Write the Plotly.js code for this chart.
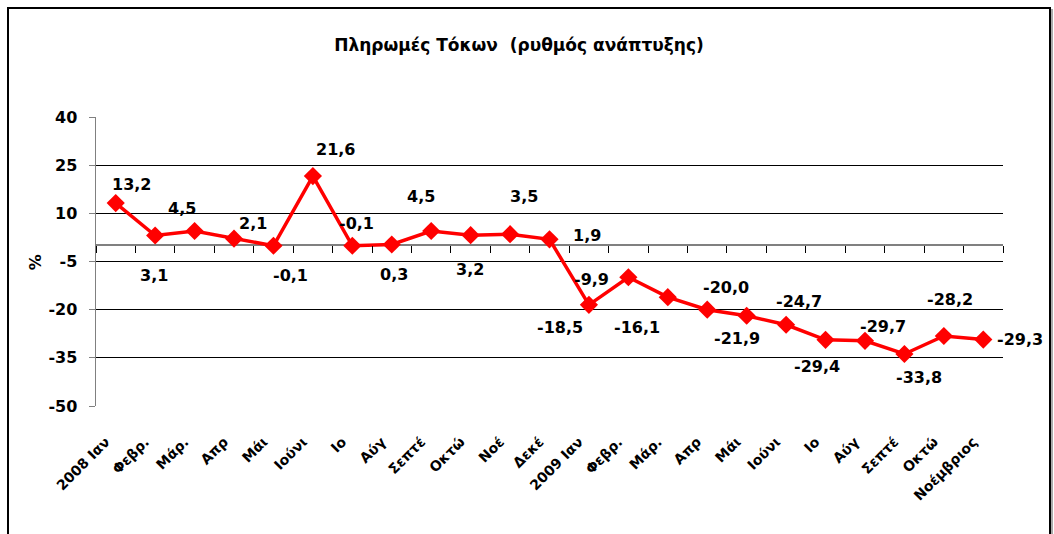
<!DOCTYPE html>
<html>
<head>
<meta charset="utf-8">
<script src="https://cdn.plot.ly/plotly-3.0.1.min.js"></script>
<style>
  html, body { margin: 0; padding: 0; background: #fff; }
  #wrap { position: relative; width: 1054px; height: 534px; overflow: hidden; }
  #chart { width: 1054px; height: 534px; }
  #frame { position: absolute; left: 7px; top: 7px; width: 1040px; height: 560px;
           border: 2px solid #000; box-shadow: 2px 2px 0 #aaa; pointer-events: none; }
</style>
</head>
<body>
<div id="wrap">
  <div id="chart"></div>
  <div id="frame"></div>
</div>
<script>
// ---- data ----
const months = ["2008 Ιαν", "Φεβρ.", "Μάρ.", "Απρ", "Μάι", "Ιούνι", "Ιο", "Αύγ", "Σεπτέ", "Οκτώ", "Νοέ", "Δεκέ",
                "2009 Ιαν", "Φεβρ.", "Μάρ.", "Απρ", "Μάι", "Ιούνι", "Ιο", "Αύγ", "Σεπτέ", "Οκτώ", "Νοέμβριος"];
const growth = [13.2, 3.1, 4.5, 2.1, -0.1, 21.6, -0.1, 0.3, 4.5, 3.2, 3.5, 1.9,
                -18.5, -9.9, -16.1, -20.0, -21.9, -24.7, -29.4, -29.7, -33.8, -28.2, -29.3];
const yTicks = [40, 25, 10, -5, -20, -35, -50];

// ---- label placement (pixel offsets, style only) ----
const labelShiftX = [16, -1, -13, 19, 17, 23, 4, 2, -10, -1, 14, 37,
                     -29, -37, -31, 19, -10, 13, -9, 18, 15, 6, 37];
const labelShiftY = [19, -40, 22, 15, -30, 27, 22, -30, 34, -34, 38, 4,
                     -23, -2, -30, 22, -23, 23, -27, 14, -24, 37, 0];

const idx = months.map((_, i) => i);
const boundaries = [];
for (let i = 0; i <= months.length; i++) boundaries.push(i - 0.5);

const FONT = "DejaVu Sans, sans-serif";

const trace = {
  x: idx, y: growth, type: "scatter", mode: "lines+markers",
  line: { color: "#ff0000", width: 3.5 },
  marker: { symbol: "diamond", size: 14, color: "#ff0000" },
  cliponaxis: false, hoverinfo: "skip", showlegend: false
};
const tickTrace = { x: [], y: [], xaxis: "x2", yaxis: "y", type: "scatter", mode: "lines", showlegend: false, hoverinfo: "skip" };

const annotations = growth.map((v, i) => ({
  x: i, y: v, xref: "x", yref: "y",
  text: v.toFixed(1).replace(".", ","),
  showarrow: false, xshift: labelShiftX[i], yshift: labelShiftY[i],
  font: { family: FONT, size: 16, color: "#000", weight: "bold" }
}));
annotations.push({
  text: "%", xref: "paper", yref: "paper", x: -0.067, y: 0.498,
  xanchor: "center", yanchor: "middle", textangle: -90, showarrow: false,
  font: { family: FONT, size: 16, color: "#000", weight: "bold" }
});

const layout = {
  width: 1054, height: 534,
  margin: { l: 96, r: 51, t: 117, b: 128 },
  paper_bgcolor: "#fff", plot_bgcolor: "#fff",
  title: {
    text: "Πληρωμές Τόκων  (ρυθμός ανάπτυξης)",
    x: 519 / 1054, xref: "container", xanchor: "center",
    y: 1 - 45 / 534, yref: "container", yanchor: "middle",
    font: { family: FONT, size: 17, color: "#000", weight: "bold" }
  },
  xaxis: {
    type: "linear", range: [-0.5, months.length - 0.5],
    tickvals: idx, ticktext: months, tickangle: -45,
    ticks: "", showgrid: false, zeroline: false, showline: false,
    ticklabelstandoff: 24, ticklabelshift: -10,
    tickfont: { family: FONT, size: 14, color: "#000", weight: "bold" }
  },
  xaxis2: {
    type: "linear", range: [-0.5, months.length - 0.5], overlaying: "x",
    anchor: "free", position: 50 / 90,
    tickvals: boundaries, showticklabels: false,
    ticks: "outside", ticklen: 7, tickwidth: 1, tickcolor: "#000",
    showgrid: false, zeroline: false, showline: false
  },
  yaxis: {
    range: [-50, 40], tickvals: yTicks, ticktext: yTicks.map(String),
    ticks: "outside", ticklen: 6, tickcolor: "#808080", tickwidth: 1,
    showline: true, linecolor: "#808080", linewidth: 1.5,
    showgrid: true, gridcolor: "#000", gridwidth: 1,
    zeroline: true, zerolinecolor: "#808080", zerolinewidth: 2,
    ticklabelstandoff: 8,
    tickfont: { family: FONT, size: 16, color: "#000", weight: "bold" }
  },
  annotations: annotations,
  showlegend: false
};

Plotly.newPlot("chart", [trace, tickTrace], layout, { displayModeBar: false, staticPlot: true });
</script>
</body>
</html>
